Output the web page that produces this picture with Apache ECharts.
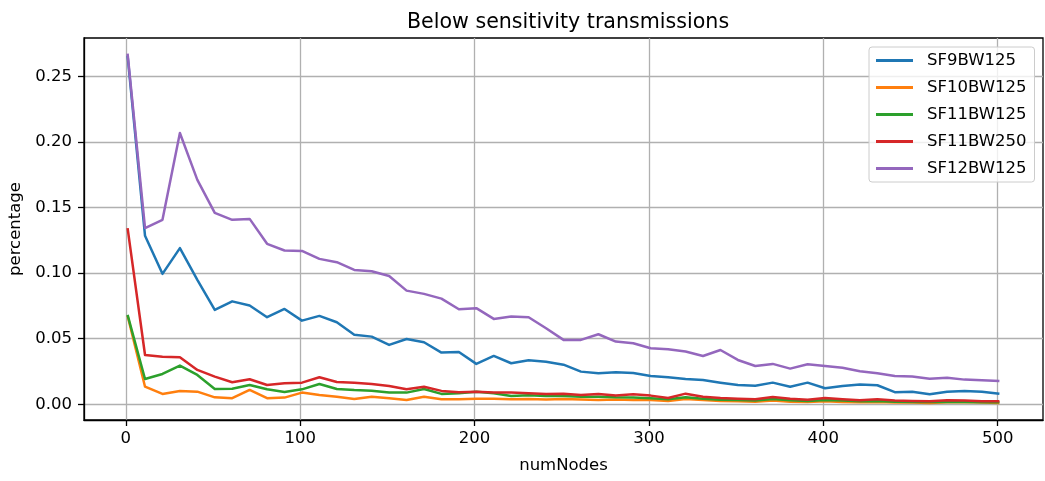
<!DOCTYPE html>
<html>
<head>
<meta charset="utf-8">
<title>Below sensitivity transmissions</title>
<script src="https://cdn.jsdelivr.net/npm/echarts@6/dist/echarts.min.js"></script>
<style>
  html, body { margin: 0; padding: 0; background: #ffffff; }
  #chart { width: 1045px; height: 481px; }
</style>
</head>
<body>
<div id="chart"></div>
<script>
// Number of nodes in each simulation run
const numNodes = [
  1, 11, 21, 31, 41, 51, 61, 71, 81, 91,
  101, 111, 121, 131, 141, 151, 161, 171, 181, 191,
  201, 211, 221, 231, 241, 251, 261, 271, 281, 291,
  301, 311, 321, 331, 341, 351, 361, 371, 381, 391,
  401, 411, 421, 431, 441, 451, 461, 471, 481, 491,
  501
];

// Share of transmissions below receiver sensitivity, per SF/BW setting
const sf9bw125 = [
  0.2660, 0.1285, 0.0995, 0.1191, 0.0949, 0.0720, 0.0785, 0.0753, 0.0664, 0.0727,
  0.0638, 0.0674, 0.0626, 0.0530, 0.0516, 0.0453, 0.0498, 0.0473, 0.0394, 0.0399,
  0.0308, 0.0369, 0.0313, 0.0336, 0.0325, 0.0302, 0.0249, 0.0237, 0.0244, 0.0239,
  0.0216, 0.0206, 0.0193, 0.0185, 0.0165, 0.0147, 0.0142, 0.0165, 0.0134, 0.0165,
  0.0122, 0.0140, 0.0150, 0.0145, 0.0092, 0.0096, 0.0076, 0.0096, 0.0102, 0.0096,
  0.0081
];
const sf10bw125 = [
  0.0675, 0.0134, 0.0079, 0.0102, 0.0096, 0.0053, 0.0046, 0.0109, 0.0046, 0.0051,
  0.0089, 0.0071, 0.0058, 0.0040, 0.0058, 0.0046, 0.0033, 0.0058, 0.0038, 0.0038,
  0.0043, 0.0043, 0.0038, 0.0041, 0.0036, 0.0041, 0.0036, 0.0033, 0.0036, 0.0033,
  0.0033, 0.0025, 0.0041, 0.0033, 0.0025, 0.0023, 0.0020, 0.0028, 0.0020, 0.0018,
  0.0023, 0.0018, 0.0015, 0.0018, 0.0013, 0.0013, 0.0010, 0.0015, 0.0018, 0.0013,
  0.0010
];
const sf11bw125 = [
  0.0682, 0.0193, 0.0231, 0.0295, 0.0224, 0.0117, 0.0119, 0.0147, 0.0114, 0.0094,
  0.0114, 0.0155, 0.0117, 0.0109, 0.0104, 0.0089, 0.0089, 0.0117, 0.0079, 0.0084,
  0.0096, 0.0084, 0.0063, 0.0068, 0.0063, 0.0063, 0.0058, 0.0058, 0.0053, 0.0051,
  0.0046, 0.0038, 0.0053, 0.0043, 0.0035, 0.0033, 0.0028, 0.0040, 0.0030, 0.0025,
  0.0033, 0.0028, 0.0023, 0.0025, 0.0020, 0.0018, 0.0018, 0.0020, 0.0018, 0.0015,
  0.0015
];
const sf11bw250 = [
  0.1344, 0.0376, 0.0363, 0.0359, 0.0262, 0.0211, 0.0168, 0.0191, 0.0147, 0.0160,
  0.0165, 0.0206, 0.0170, 0.0165, 0.0155, 0.0140, 0.0114, 0.0134, 0.0102, 0.0092,
  0.0096, 0.0089, 0.0089, 0.0084, 0.0079, 0.0081, 0.0071, 0.0079, 0.0066, 0.0076,
  0.0066, 0.0048, 0.0081, 0.0058, 0.0048, 0.0043, 0.0038, 0.0056, 0.0043, 0.0035,
  0.0048, 0.0038, 0.0030, 0.0038, 0.0028, 0.0025, 0.0023, 0.0030, 0.0028, 0.0023,
  0.0023
];
const sf12bw125 = [
  0.2674, 0.1344, 0.1407, 0.2069, 0.1712, 0.1460, 0.1407, 0.1414, 0.1224, 0.1173,
  0.1170, 0.1109, 0.1084, 0.1025, 0.1015, 0.0979, 0.0867, 0.0842, 0.0806, 0.0725,
  0.0733, 0.0651, 0.0669, 0.0664, 0.0580, 0.0491, 0.0491, 0.0534, 0.0478, 0.0466,
  0.0427, 0.0420, 0.0402, 0.0368, 0.0414, 0.0338, 0.0292, 0.0308, 0.0272, 0.0305,
  0.0292, 0.0279, 0.0252, 0.0237, 0.0216, 0.0211, 0.0195, 0.0203, 0.0188, 0.0183,
  0.0178
];

const seriesNames = ['SF9BW125', 'SF10BW125', 'SF11BW125', 'SF11BW250', 'SF12BW125'];
const seriesValues = [sf9bw125, sf10bw125, sf11bw125, sf11bw250, sf12bw125];
const seriesColors = ['#1f77b4', '#ff7f0e', '#2ca02c', '#d62728', '#9467bd'];

// Tick positions on both axes
const xTicks = [0, 100, 200, 300, 400, 500];
const yTicks = [0, 0.05, 0.10, 0.15, 0.20, 0.25];

const FONT = 'DejaVu Sans';
const chart = echarts.init(document.getElementById('chart'), null, { renderer: 'canvas' });

const series = seriesNames.map((name, i) => ({
  name: name,
  type: 'line',
  data: numNodes.map((n, k) => [n, seriesValues[i][k]]),
  showSymbol: false,
  symbol: 'none',
  animation: false,
  lineStyle: { color: seriesColors[i], width: 2.5, join: 'round', cap: 'butt' },
  itemStyle: { color: seriesColors[i] },
  emphasis: { disabled: true }
}));

chart.setOption({
  animation: false,
  backgroundColor: '#ffffff',
  textStyle: { fontFamily: FONT },
  title: {
    text: 'Below sensitivity transmissions',
    left: 563,
    top: 7,
    textAlign: 'center',
    textStyle: { fontFamily: FONT, fontSize: 20.6, fontWeight: 'normal', color: '#000000' }
  },
  legend: {
    orient: 'vertical',
    left: 869,
    top: 47,
    padding: [5, 8, 5, 7],
    itemGap: 10,
    itemWidth: 37,
    itemHeight: 3,
    icon: 'rect',
    backgroundColor: 'rgba(255,255,255,0.8)',
    borderColor: '#cccccc',
    borderWidth: 1,
    borderRadius: 3,
    textStyle: { fontFamily: FONT, fontSize: 16.5, color: '#000000', lineHeight: 16, padding: [0, 0, 0, 9] },
    data: seriesNames
  },
  grid: {
    left: 84,
    right: 2,
    top: 38,
    bottom: 61,
    show: true,
    borderColor: '#000000',
    borderWidth: 1.3,
    containLabel: false,
    outerBoundsMode: 'none'
  },
  xAxis: {
    type: 'value',
    min: -24,
    max: 526,
    name: 'numNodes',
    nameLocation: 'middle',
    nameGap: 37,
    nameTextStyle: { fontFamily: FONT, fontSize: 16.5, color: '#000000' },
    axisLine: { show: true, onZero: false, lineStyle: { color: '#000000', width: 1.3 } },
    axisTick: { show: true, inside: false, length: 6, customValues: xTicks, lineStyle: { color: '#000000', width: 1.3 } },
    axisLabel: { customValues: xTicks, margin: 10, fontFamily: FONT, fontSize: 16.5, color: '#000000' },
    splitLine: { show: true, lineStyle: { color: '#b0b0b0', width: 1.3 } }
  },
  yAxis: {
    type: 'value',
    min: -0.012,
    max: 0.2794,
    name: 'percentage',
    nameLocation: 'middle',
    nameRotate: 90,
    nameGap: 58,
    nameTextStyle: { fontFamily: FONT, fontSize: 16.5, color: '#000000' },
    axisLine: { show: true, onZero: false, lineStyle: { color: '#000000', width: 1.3 } },
    axisTick: { show: true, inside: false, length: 6, customValues: yTicks, lineStyle: { color: '#000000', width: 1.3 } },
    axisLabel: {
      customValues: yTicks,
      margin: 12,
      fontFamily: FONT,
      fontSize: 16.5,
      color: '#000000',
      formatter: v => v.toFixed(2)
    },
    splitLine: { show: true, lineStyle: { color: '#b0b0b0', width: 1.3 } }
  },
  series: series
});
</script>
</body>
</html>
